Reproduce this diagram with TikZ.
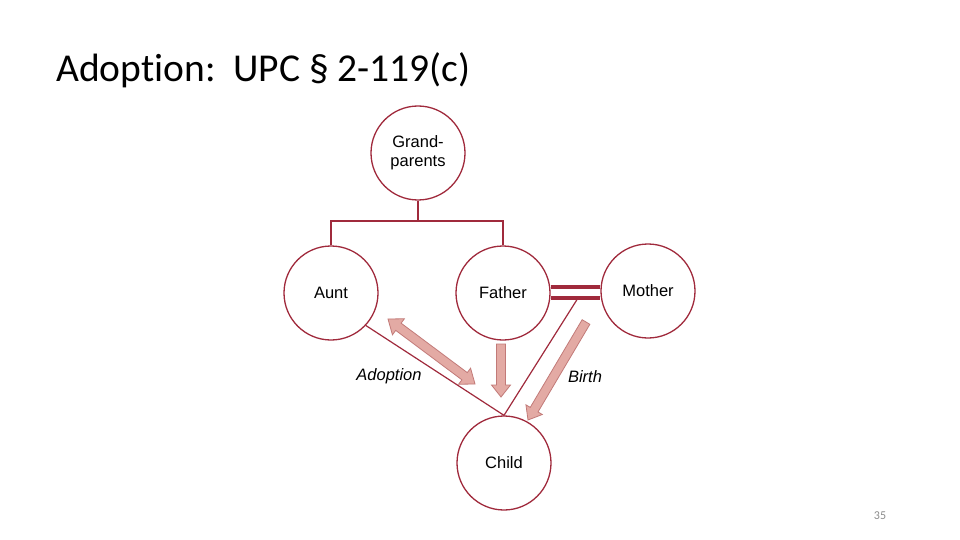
\documentclass[tikz,border=0pt]{standalone}
\usepackage{fontspec}
\setmainfont{Liberation Sans}
\newfontfamily\titlefont[Ligatures=NoCommon]{Carlito}
\usetikzlibrary{calc}
\definecolor{cline}{HTML}{A02A3C}
\definecolor{afill}{HTML}{E3AAA4}
\definecolor{aline}{HTML}{C27A78}
\definecolor{pgnum}{HTML}{8C8C8C}
\newcommand\fatarrow[3]{%
  \coordinate (#3c) at ($(#2)!12pt!(#1)$);
  \filldraw[fat] ($(#1)!4.5pt!90:(#2)$) -- ($(#3c)!4.5pt!90:(#2)$) -- ($(#3c)!9.5pt!90:(#2)$) -- (#2)
     -- ($(#3c)!9.5pt!-90:(#2)$) -- ($(#3c)!4.5pt!-90:(#2)$) -- ($(#1)!4.5pt!-90:(#2)$) -- cycle;}
\newcommand\fatdarrow[3]{%
  \coordinate (#3a) at ($(#1)!13pt!(#2)$);
  \coordinate (#3b) at ($(#2)!13pt!(#1)$);
  \filldraw[fat] (#1) -- ($(#3a)!10pt!90:(#2)$) -- ($(#3a)!4.5pt!90:(#2)$) -- ($(#3b)!4.5pt!90:(#2)$)
     -- ($(#3b)!10pt!90:(#2)$) -- (#2) -- ($(#3b)!10pt!-90:(#2)$) -- ($(#3b)!4.5pt!-90:(#2)$)
     -- ($(#3a)!4.5pt!-90:(#2)$) -- ($(#3a)!10pt!-90:(#2)$) -- cycle;}
\begin{document}
\begin{tikzpicture}[x=1pt,y=-1pt,
  person/.style={circle, draw=cline, line width=1.3pt, minimum size=94pt, inner sep=0pt,
    font=\fontsize{16.5}{19}\selectfont, align=center},
  tree/.style={draw=cline, line width=1.2pt},
  marriage/.style={draw=cline, line width=4pt},
  fat/.style={fill=afill, draw=aline, line width=0.8pt, line join=miter},
  lbl/.style={font=\fontsize{16.5}{19}\selectfont\itshape, inner sep=0pt}]
\useasboundingbox (0,0) rectangle (960,540);
\fill[white] (0,0) rectangle (960,540);

\node[anchor=base west, font=\titlefont\fontsize{39.5}{44}\selectfont, inner sep=0pt] (title) at (56,82) {Adoption:\ \ UPC § 2-119(c)};
\node[anchor=base, font=\titlefont\fontsize{12}{14}\selectfont, text=pgnum, inner sep=0pt] (pg) at (880,519) {35};

\node[person] (gp) at (418,153) {Grand-\\parents};
\node[person] (aunt) at (331,293) {Aunt};
\node[person] (father) at (503,293) {Father};
\node[person] (mother) at (648,291) {Mother};
\node[person] (child) at (504,463) {Child};

\draw[tree] (gp.south) -- (418,221) coordinate (tj);
\draw[tree] (aunt.north) |- (tj) -| (father.north);

\draw[marriage] ($(father.east)+(0,-6)$) -- ($(mother.west)+(0,-4)$);
\draw[marriage] ($(father.east)+(0,5)$) -- ($(mother.west)+(0,7)$);

\coordinate (mline) at (578,298);
\draw[tree] (aunt.-43) -- (child.north);
\draw[tree] (mline) -- (child.north);

\coordinate (fa1) at (501,344); \coordinate (fa2) at (501,397);
\fatarrow{fa1}{fa2}{fa}
\coordinate (ba1) at (586,322); \coordinate (ba2) at (528,420);
\fatarrow{ba1}{ba2}{ba}
\coordinate (da1) at (388,319); \coordinate (da2) at (475,384);
\fatdarrow{da1}{da2}{da}

\node[lbl] (adopt) at (389,376) {Adoption};
\node[lbl] (birth) at (585,377) {Birth};
\end{tikzpicture}
\end{document}
